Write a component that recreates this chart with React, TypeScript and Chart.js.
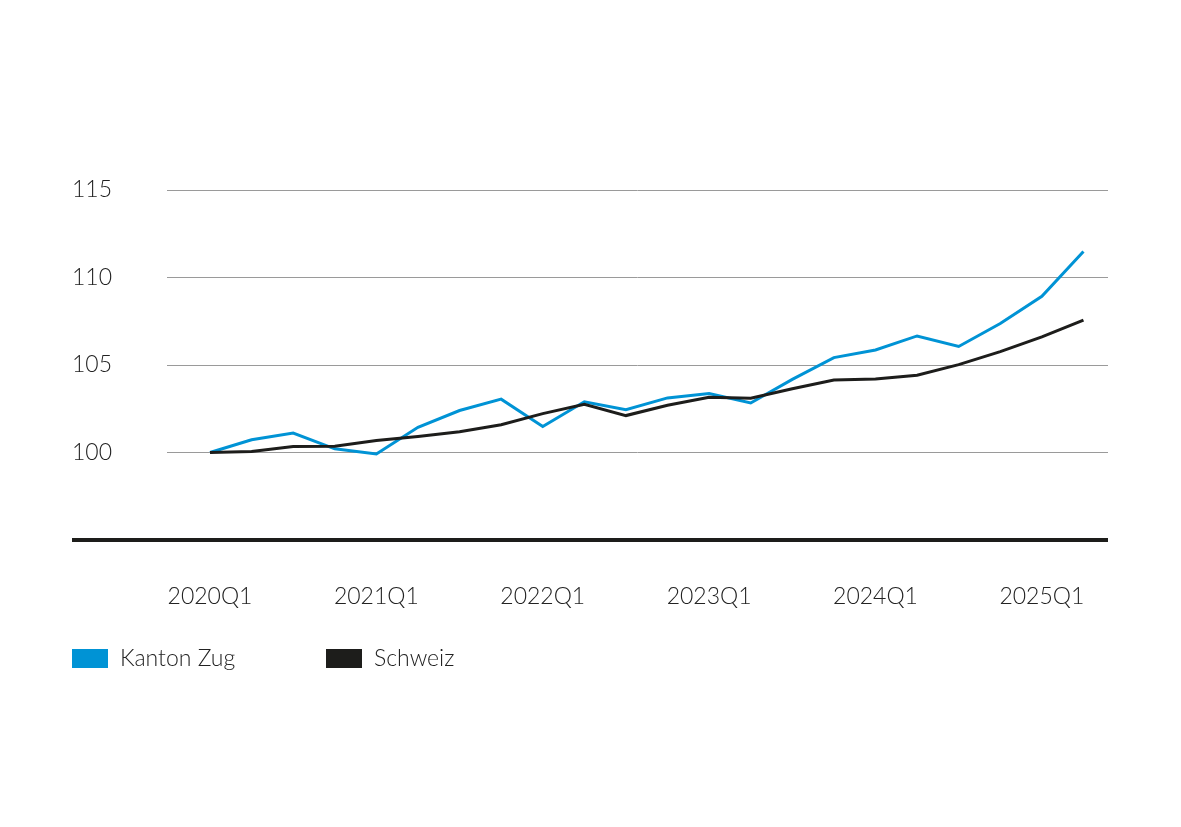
import React, { useEffect, useRef } from "react";
import { Chart, registerables } from "chart.js";

Chart.register(...registerables);

const QUARTERS = [
  "2020Q1", "2020Q2", "2020Q3", "2020Q4",
  "2021Q1", "2021Q2", "2021Q3", "2021Q4",
  "2022Q1", "2022Q2", "2022Q3", "2022Q4",
  "2023Q1", "2023Q2", "2023Q3", "2023Q4",
  "2024Q1", "2024Q2", "2024Q3", "2024Q4",
  "2025Q1", "2025Q2",
];

const KANTON_ZUG = [
  100.0, 100.73, 101.11, 100.21, 99.92, 101.44, 102.4, 103.05,
  101.49, 102.9, 102.45, 103.12, 103.37, 102.83, 104.18, 105.42,
  105.86, 106.66, 106.06, 107.37, 108.93, 111.48,
];

const SCHWEIZ = [
  100.0, 100.06, 100.34, 100.36, 100.69, 100.92, 101.19, 101.59,
  102.22, 102.76, 102.11, 102.7, 103.16, 103.1, 103.64, 104.14,
  104.2, 104.42, 105.02, 105.76, 106.61, 107.57,
];

const SERIES_NAMES = ["Kanton Zug", "Schweiz"];
const SERIES_COLORS = ["#0093d5", "#1d1d1b"];

const Y_MIN = 95;
const Y_MAX = 115;
const Y_STEP = 5;
const X_TICK_INDEXES = [0, 4, 8, 12, 16, 20];

const FONT_FAMILY = "Lato, 'Open Sans', sans-serif";
const TEXT_COLOR = "#222222";

const customPlugin = {
  id: "customDecor",
  afterDraw(chart: any) {
    const ctx = chart.ctx;
    const yScale = chart.scales.y;
    const area = chart.chartArea;
    const by = yScale.getPixelForValue(Y_MIN);
    ctx.save();
    ctx.strokeStyle = "#1d1d1b";
    ctx.lineWidth = 4;
    ctx.beginPath();
    ctx.moveTo(yScale.left, by);
    ctx.lineTo(area.right, by);
    ctx.stroke();

    const ly = area.bottom + 118;
    chart.data.datasets.forEach((ds: any, i: number) => {
      const x = yScale.left + i * 254;
      ctx.fillStyle = ds.borderColor;
      ctx.fillRect(x, ly - 9, 36, 19);
      ctx.fillStyle = TEXT_COLOR;
      ctx.font = `300 23px ${FONT_FAMILY}`;
      ctx.textBaseline = "middle";
      ctx.textAlign = "left";
      ctx.fillText(ds.label, x + 48, ly + 1);
    });
    ctx.restore();
  },
};

export default function App() {
  const canvasRef = useRef<HTMLCanvasElement | null>(null);

  useEffect(() => {
    if (!canvasRef.current) return;
    const toPoints = (arr: number[]) => arr.map((v, i) => ({ x: i, y: v }));
    const chart = new Chart(canvasRef.current, {
      type: "line",
      data: {
        datasets: [
          {
            label: SERIES_NAMES[0],
            data: toPoints(KANTON_ZUG),
            borderColor: SERIES_COLORS[0],
            backgroundColor: SERIES_COLORS[0],
            borderWidth: 3,
            pointRadius: 0,
            tension: 0,
            order: 1,
          },
          {
            label: SERIES_NAMES[1],
            data: toPoints(SCHWEIZ),
            borderColor: SERIES_COLORS[1],
            backgroundColor: SERIES_COLORS[1],
            borderWidth: 3,
            pointRadius: 0,
            tension: 0,
            order: 0,
          },
        ],
      },
      options: {
        responsive: false,
        animation: false,
        layout: { padding: { left: 72, right: 73, top: 190, bottom: 0 } },
        plugins: {
          legend: { display: false },
          tooltip: { enabled: false },
        },
        scales: {
          x: {
            type: "linear",
            min: -1.034,
            max: 21.59,
            grid: { display: false, drawTicks: false },
            border: { display: false },
            afterBuildTicks: (scale: any) => {
              scale.ticks = X_TICK_INDEXES.map((v) => ({ value: v }));
            },
            afterFit: (scale: any) => {
              scale.height = 287;
            },
            ticks: {
              autoSkip: false,
              maxRotation: 0,
              padding: 43,
              color: TEXT_COLOR,
              font: { family: FONT_FAMILY, size: 23, weight: "300" },
              callback: (v: any) => QUARTERS[Math.round(Number(v))] ?? "",
            },
          },
          y: {
            min: Y_MIN,
            max: Y_MAX,
            grid: {
              color: (c: any) => (c.tick && c.tick.value === Y_MIN ? "rgba(0,0,0,0)" : "#9a9a9a"),
              lineWidth: 1,
              drawTicks: false,
            },
            border: { display: false },
            afterFit: (scale: any) => {
              scale.width = 95;
            },
            ticks: {
              stepSize: Y_STEP,
              crossAlign: "far",
              padding: 0,
              color: TEXT_COLOR,
              font: { family: FONT_FAMILY, size: 23, weight: "300" },
              callback: (v: any) => (Number(v) === Y_MIN ? "" : String(v)),
            },
          },
        },
      },
      plugins: [customPlugin],
    });
    return () => chart.destroy();
  }, []);

  return (
    <div style={{ position: "fixed", left: 0, top: 0, width: 1181, height: 827, background: "#fff" }}>
      <canvas ref={canvasRef} width={1181} height={827} />
    </div>
  );
}
